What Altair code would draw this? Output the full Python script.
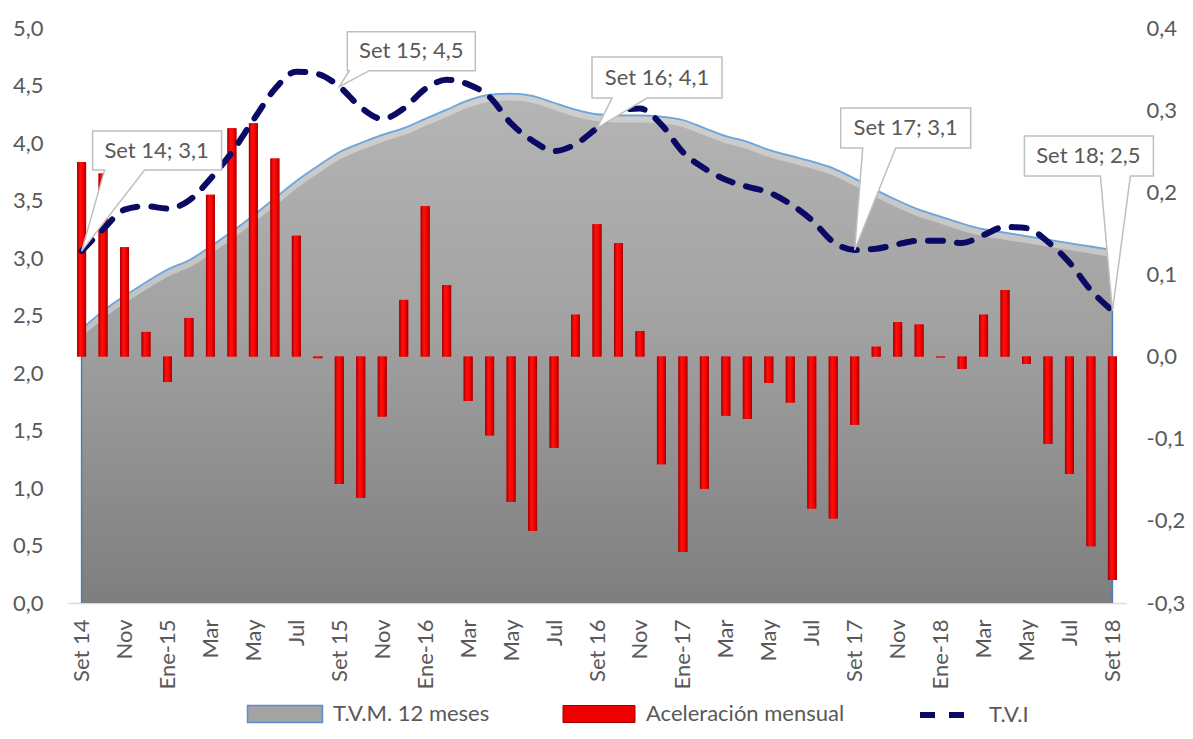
import json
import altair as alt
import pandas as pd

FONT = "Lato"
TXT = "#595959"

# ---------------- data ----------------
meses = ["Set 14", "Oct", "Nov", "Dic", "Ene-15", "Feb", "Mar", "Abr", "May", "Jun", "Jul", "Ago",
         "Set 15", "Oct", "Nov", "Dic", "Ene-16", "Feb", "Mar", "Abr", "May", "Jun", "Jul", "Ago",
         "Set 16", "Oct", "Nov", "Dic", "Ene-17", "Feb", "Mar", "Abr", "May", "Jun", "Jul", "Ago",
         "Set 17", "Oct", "Nov", "Dic", "Ene-18", "Feb", "Mar", "Abr", "May", "Jun", "Jul", "Ago",
         "Set 18"]

# T.V.M. 12 meses (left axis)
tvm = [2.38, 2.54, 2.67, 2.79, 2.90, 2.98, 3.10, 3.23, 3.37, 3.52, 3.67, 3.80,
       3.92, 4.00, 4.07, 4.13, 4.21, 4.29, 4.37, 4.42, 4.43, 4.41, 4.35, 4.29,
       4.25, 4.24, 4.24, 4.23, 4.20, 4.13, 4.06, 4.01, 3.94, 3.89, 3.84, 3.78,
       3.69, 3.59, 3.50, 3.42, 3.36, 3.30, 3.25, 3.22, 3.19, 3.16, 3.13, 3.10,
       3.07]

# T.V.I (left axis)
tvi = [3.06, 3.25, 3.42, 3.45, 3.43, 3.50, 3.69, 3.92, 4.20, 4.47, 4.62, 4.60,
       4.49, 4.31, 4.21, 4.30, 4.47, 4.55, 4.51, 4.40, 4.17, 4.02, 3.93, 3.99,
       4.13, 4.28, 4.30, 4.16, 3.92, 3.78, 3.68, 3.62, 3.57, 3.47, 3.33, 3.14,
       3.07, 3.08, 3.12, 3.15, 3.15, 3.13, 3.20, 3.27, 3.26, 3.14, 2.96, 2.72,
       2.54]

# Aceleración mensual (right axis)
acel = [0.237, 0.223, 0.133, 0.030, -0.031, 0.047, 0.197, 0.278, 0.284, 0.241, 0.147, -0.002,
        -0.155, -0.172, -0.073, 0.069, 0.183, 0.087, -0.054, -0.096, -0.177, -0.212, -0.111, 0.051,
        0.161, 0.138, 0.031, -0.131, -0.238, -0.161, -0.072, -0.076, -0.032, -0.056, -0.185, -0.197,
        -0.083, 0.012, 0.042, 0.039, -0.001, -0.015, 0.051, 0.081, -0.009, -0.106, -0.143, -0.231,
        -0.272]

series = ["T.V.M. 12 meses", "Aceleración mensual", "T.V.I"]
left_ticks = [0.0, 0.5, 1.0, 1.5, 2.0, 2.5, 3.0, 3.5, 4.0, 4.5, 5.0]
right_ticks = [-0.3, -0.2, -0.1, 0.0, 0.1, 0.2, 0.3, 0.4]
callout_idx = [0, 12, 24, 36, 48]

# ---------------- callout shapes (pixel offsets relative to the pointed data point) ----------------
callout_paths = [
    "M0,0L23,-81L11,-81L11,-120L140,-120L140,-81L63,-81Z",
    "M0,0L10,-16L8,-16L8,-55L136,-55L136,-16L30,-16Z",
    "M0,0L15,-30L-5,-30L-5,-71L125,-71L125,-30L50,-30Z",
    "M0,0L8,-102L-14,-102L-14,-142L116,-142L116,-102L41,-102Z",
    "M0,0L-12,-135L-88,-135L-88,-175L41,-175L41,-135L18,-135Z",
]
callout_text_off = [(75, -100), (72, -36), (60, -50), (51, -122), (-24, -155)]

df = pd.DataFrame({
    "idx": list(range(len(meses))),
    "mes": meses,
    "tvm": tvm,
    "tvi": tvi,
    "acel": acel,
})
df["s_tvm"] = series[0]
df["s_acel"] = series[1]
df["s_tvi"] = series[2]
df["label"] = [f"{m}; {v:.1f}".replace(".", ",") for m, v in zip(meses, tvi)]

# ---------------- encodings ----------------
xscale = alt.Scale(domain=[-0.4, len(meses) - 1 + 0.4], nice=False, zero=False)
xaxis = alt.Axis(
    values=list(range(0, len(meses), 2)),
    labelExpr=f"{json.dumps(meses)}[datum.value]",
    labelAngle=270, labelFont=FONT, labelFontSize=22, labelColor=TXT,
    labelPadding=16, ticks=False, tickSize=0, grid=False,
    domainColor="#d9d9d9", domainWidth=1.5, title=None,
    labelFlush=False, labelOverlap=False, labelBound=False,
)
xenc = alt.X("idx:Q", scale=xscale, axis=xaxis)

yscaleL = alt.Scale(domain=[0, 5], nice=False, zero=False)
yaxisL = alt.Axis(
    orient="left", values=left_ticks,
    labelExpr="replace(format(datum.value, '.1f'), '.', ',')",
    labelFont=FONT, labelFontSize=22, labelColor=TXT, labelPadding=25,
    ticks=False, tickSize=0, domain=False, grid=False, title=None,
)

yscaleR = alt.Scale(domain=[-0.3, 0.4], nice=False, zero=False)
yaxisR = alt.Axis(
    orient="right", values=right_ticks,
    labelExpr="replace(replace(format(datum.value, '.1f'), '.', ','), '\u2212', '-')",
    labelFont=FONT, labelFontSize=22, labelColor=TXT, labelPadding=20,
    ticks=False, tickSize=0, domain=False, grid=False, title=None,
)

LEG = dict(orient="none", title=None, labelFont=FONT, labelFontSize=22,
           labelColor=TXT, labelLimit=400)

base = alt.Chart(df)

# ---------------- area (T.V.M.) ----------------
area_base = base.mark_area(interpolate="monotone").encode(
    x=xenc,
    y=alt.Y("tvm:Q", scale=yscaleL, axis=yaxisL),
    fill=alt.Fill("s_tvm:N",
                  scale=alt.Scale(domain=[series[0]], range=["#a3a3a3"]),
                  legend=alt.Legend(legendX=206, legendY=675,
                                    symbolType="M-37.5,-8.5h75v17h-75Z", symbolSize=4,
                                    symbolStrokeColor="#5b8fc9", symbolStrokeWidth=1.5,
                                    symbolOpacity=1, labelOffset=37, **LEG)),
)
area_grad = base.mark_area(
    interpolate="monotone",
    color=alt.Gradient(gradient="linear",
                       stops=[alt.GradientStop(color="#b5b5b5", offset=0),
                              alt.GradientStop(color="#a2a2a2", offset=0.45),
                              alt.GradientStop(color="#7e7e7e", offset=1)],
                       x1=1, x2=1, y1=0, y2=1),
).encode(x=xenc, y=alt.Y("tvm:Q", scale=yscaleL, axis=yaxisL))

glow = base.mark_line(interpolate="monotone", color="white", strokeWidth=6,
                      opacity=0.35, yOffset=4).encode(
    x=xenc, y=alt.Y("tvm:Q", scale=yscaleL, axis=yaxisL))
topline = base.mark_line(interpolate="monotone", color="#6aa6e0", strokeWidth=1.8).encode(
    x=xenc, y=alt.Y("tvm:Q", scale=yscaleL, axis=yaxisL))
edges = base.transform_filter(f"datum.idx == 0 || datum.idx == {len(meses) - 1}").mark_rule(
    color="#4a7ebb", strokeWidth=1.5).encode(
    x=xenc, y=alt.Y("tvm:Q", scale=yscaleL, axis=yaxisL), y2=alt.datum(0))

left_bottom = alt.layer(area_base, area_grad, glow, topline, edges)

# ---------------- bars (Aceleración mensual) ----------------
bars_base = base.mark_bar(size=9).encode(
    x=xenc,
    y=alt.Y("acel:Q", scale=yscaleR, axis=yaxisR),
    color=alt.Color("s_acel:N",
                    scale=alt.Scale(domain=[series[1]], range=["#ee0000"]),
                    legend=alt.Legend(legendX=520, legendY=675,
                                      symbolType="M-36,-8.5h72v17h-72Z", symbolSize=4,
                                      symbolStrokeColor="#9a0000", symbolStrokeWidth=1,
                                      symbolOpacity=1, labelOffset=36, **LEG)),
)
bars_grad = base.mark_bar(
    size=9,
    color=alt.Gradient(gradient="linear",
                       stops=[alt.GradientStop(color="#a00000", offset=0),
                              alt.GradientStop(color="#ff1010", offset=0.35),
                              alt.GradientStop(color="#ff0000", offset=0.65),
                              alt.GradientStop(color="#a00000", offset=1)],
                       x1=0, x2=1, y1=0, y2=0),
).encode(x=xenc, y=alt.Y("acel:Q", scale=yscaleR, axis=yaxisR))

bars = alt.layer(bars_base, bars_grad)

# ---------------- dashed line (T.V.I) and callouts ----------------
tvi_line = base.mark_line(interpolate="monotone", color="#0a0a64", strokeWidth=6,
                          strokeCap="round").encode(
    x=xenc,
    y=alt.Y("tvi:Q", scale=yscaleL, axis=None),
    strokeDash=alt.StrokeDash("s_tvi:N",
                              scale=alt.Scale(domain=[series[2]], range=[[15, 14]]),
                              legend=alt.Legend(legendX=849, legendY=655,
                                                symbolType="stroke", symbolSize=3364,
                                                symbolStrokeColor="#0a0a64", symbolStrokeWidth=6,
                                                labelOffset=8, **LEG)),
)

callouts = []
for i, path, (tdx, tdy) in zip(callout_idx, callout_paths, callout_text_off):
    c = base.transform_filter(f"datum.idx == {i}")
    callouts.append(
        c.mark_point(shape=path, size=4, filled=True, fill="white", stroke="#bfbfbf",
                     strokeWidth=1.5, opacity=1).encode(
            x=xenc, y=alt.Y("tvi:Q", scale=yscaleL, axis=None))
    )
    callouts.append(
        c.mark_text(dx=tdx, dy=tdy, font=FONT, fontSize=22, color=TXT,
                    align="center", baseline="middle").encode(
            x=xenc, y=alt.Y("tvi:Q", scale=yscaleL, axis=None), text="label:N")
    )

left_top = alt.layer(tvi_line, *callouts)

chart = alt.layer(left_bottom, bars, left_top).resolve_scale(y="independent").properties(
    width=1058, height=575,
    autosize=alt.AutoSizeParams(type="none"),
    padding={"left": 60, "top": 20, "right": 59, "bottom": 124},
    background="white",
).configure_view(stroke=None)

chart.save("out.html", embed_options={"renderer": "svg", "actions": False})
